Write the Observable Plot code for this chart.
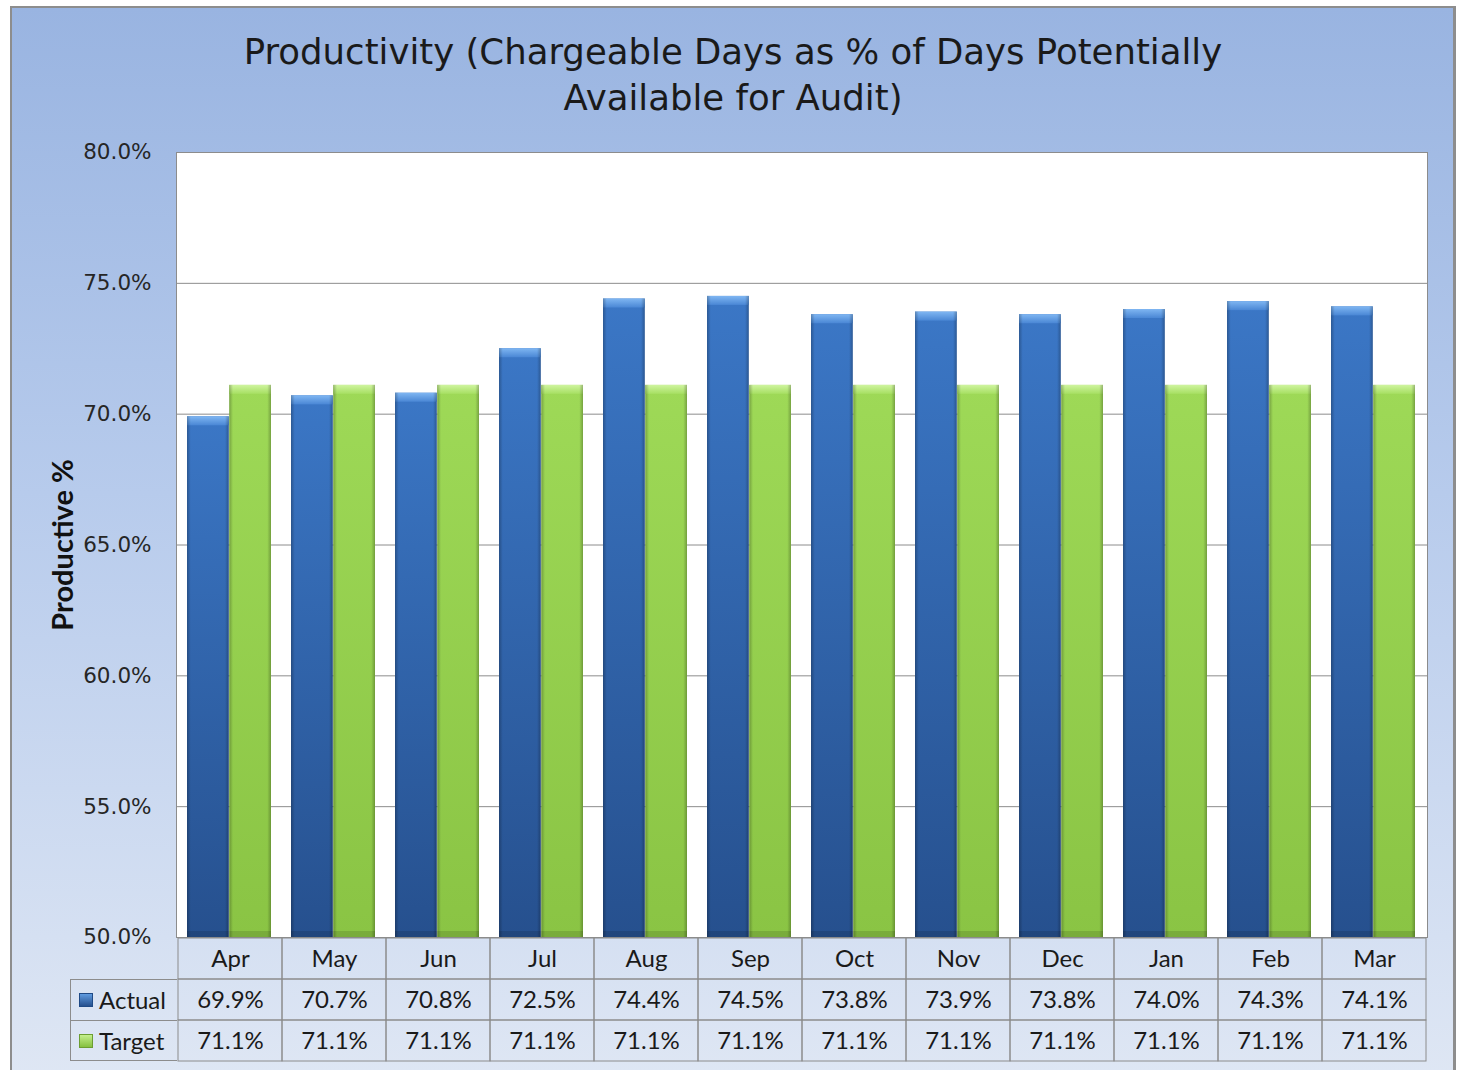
<!DOCTYPE html>
<html>
<head>
<meta charset="utf-8">
<script src="https://cdn.jsdelivr.net/npm/d3@7"></script>
<script src="https://cdn.jsdelivr.net/npm/@observablehq/plot@0.6"></script>
<style>
  html, body { margin: 0; padding: 0; width: 1460px; height: 1070px; overflow: hidden; background: white; }
  .abs { position: absolute; }
  #frame { left: 10px; top: 6px; width: 1446px; height: 1080px; box-sizing: border-box;
           border: 2px solid #8d8d8d; border-right-width: 3px;
           background: linear-gradient(to bottom, #99b4e1 0%, #b7cbec 45%, #dfe7f4 100%); }
  #title { left: 10px; width: 1446px; top: 29px; text-align: center; font-family: "DejaVu Sans", sans-serif;
           font-size: 35.5px; line-height: 46px; color: #1a1a1a; }
  #legend { left: 70px; top: 979px; width: 107px; height: 82px; box-sizing: border-box; border: 1px solid #8c8c8c; border-right: none;
            font-family: Lato, sans-serif; font-size: 24px; color: #1a1a1a; }
  .lrow { height: 40px; line-height: 40px; display: flex; align-items: center; padding-left: 8px; box-sizing: border-box; }
  .lrow + .lrow { border-top: 1px solid #8c8c8c; }
  .sw { width: 14px; height: 14px; margin-right: 6px; box-sizing: border-box; }
</style>
</head>
<body>
<div id="frame" class="abs"></div>
<div id="title" class="abs"></div>
<div id="main" class="abs" style="left:0;top:130px"></div>
<div id="table" class="abs" style="left:0;top:937px"></div>
<div id="legend" class="abs"></div>
<script>
// ---- data ----
const titleLines = ["Productivity (Chargeable Days as % of Days Potentially", "Available for Audit)"];
const yLabel = "Productive %";
const months = ["Apr", "May", "Jun", "Jul", "Aug", "Sep", "Oct", "Nov", "Dec", "Jan", "Feb", "Mar"];
const actual = [69.9, 70.7, 70.8, 72.5, 74.4, 74.5, 73.8, 73.9, 73.8, 74.0, 74.3, 74.1];
const target = [71.1, 71.1, 71.1, 71.1, 71.1, 71.1, 71.1, 71.1, 71.1, 71.1, 71.1, 71.1];
const seriesNames = ["Actual", "Target"];
const yTicks = [50, 55, 60, 65, 70, 75, 80];

// ---- derived tables ----
const actualData = months.map((m, i) => ({month: m, value: actual[i]}));
const targetData = months.map((m, i) => ({month: m, value: target[i]}));
const fmt = v => v.toFixed(1) + "%";

document.getElementById("title").innerHTML = titleLines.join("<br>");

const W = 1460, ML = 176, MR = 33;
const step = (W - ML - MR) / months.length;
const bandwidth = step * 0.81;
const half = bandwidth / 2;
const base = yTicks[0];

const barMarks = (data, gradBody, gradBevel, side) => {
  const inset = side === "left" ? {insetRight: half} : {insetLeft: half};
  return [
    Plot.barY(data, {x: "month", y1: base, y2: "value", fill: `url(#${gradBody})`, ...inset}),
    Plot.barY(data, {x: "month", y1: "value", y2: "value", insetBottom: -9, fill: `url(#${gradBevel})`, ...inset}),
    Plot.barY(data, {x: "month", y1: base, y2: base, insetTop: -6, fill: "rgba(0,0,0,0.12)", ...inset}),
    Plot.barY(data, {x: "month", y1: base, y2: "value", fill: "url(#gEdge)", ...inset})
  ];
};

const main = Plot.plot({
  width: W, height: 827,
  marginLeft: ML, marginRight: MR, marginTop: 22, marginBottom: 20,
  style: {background: "transparent", overflow: "visible", fontFamily: "DejaVu Sans", fontSize: "21.5px", color: "#262626"},
  x: {domain: months, paddingInner: 0.19, paddingOuter: 0.095, axis: null},
  y: {domain: [yTicks[0], yTicks[yTicks.length - 1]], ticks: yTicks, tickFormat: fmt, label: null, tickSize: 0, tickPadding: 25},
  marks: [
    Plot.frame({fill: "white", stroke: "#8c8c8c"}),
    Plot.ruleY(yTicks, {stroke: "#8c8c8c", strokeWidth: 1}),
    ...barMarks(actualData, "gBlue", "gBlueBevel", "left"),
    ...barMarks(targetData, "gGreen", "gGreenBevel", "right"),
    Plot.text([yLabel], {frameAnchor: "left", textAnchor: "middle", rotate: -90, dx: -113,
      fontWeight: "bold", fontSize: 29, fontFamily: "Lato", fill: "#111"})
  ]
});

const defs = `
<defs>
  <linearGradient id="gBlue" x1="0" y1="0" x2="0" y2="1">
    <stop offset="0" stop-color="#3b77c6"/><stop offset="1" stop-color="#26508e"/>
  </linearGradient>
  <linearGradient id="gBlueBevel" x1="0" y1="0" x2="0" y2="1">
    <stop offset="0" stop-color="#7fb6f2"/><stop offset="1" stop-color="#4a87d5"/>
  </linearGradient>
  <linearGradient id="gGreen" x1="0" y1="0" x2="0" y2="1">
    <stop offset="0" stop-color="#9ed957"/><stop offset="1" stop-color="#8ac444"/>
  </linearGradient>
  <linearGradient id="gGreenBevel" x1="0" y1="0" x2="0" y2="1">
    <stop offset="0" stop-color="#cff49f"/><stop offset="1" stop-color="#a6df62"/>
  </linearGradient>
  <linearGradient id="gEdge" x1="0" y1="0" x2="1" y2="0">
    <stop offset="0" stop-color="#000" stop-opacity="0.25"/>
    <stop offset="0.09" stop-color="#000" stop-opacity="0"/>
    <stop offset="0.91" stop-color="#000" stop-opacity="0"/>
    <stop offset="1" stop-color="#000" stop-opacity="0.25"/>
  </linearGradient>
</defs>`;
main.insertAdjacentHTML("afterbegin", defs);
document.getElementById("main").appendChild(main);

// ---- data table ----
const rowKeys = ["hdr", ...seriesNames];
const tableRows = [];
months.forEach((m, i) => {
  tableRows.push({month: m, row: "hdr", label: m});
  tableRows.push({month: m, row: seriesNames[0], label: fmt(actual[i])});
  tableRows.push({month: m, row: seriesNames[1], label: fmt(target[i])});
});
const table = Plot.plot({
  width: W, height: 124,
  marginLeft: ML, marginRight: MR, marginTop: 0, marginBottom: 0,
  style: {background: "transparent", overflow: "visible"},
  x: {domain: months, padding: 0, axis: null},
  y: {domain: rowKeys, padding: 0, axis: null},
  marks: [
    Plot.cell(tableRows, {x: "month", y: "row", fill: "none", stroke: "#8c8c8c"}),
    Plot.text(tableRows, {x: "month", y: "row", text: "label", fontFamily: "Lato", fontSize: 24, fill: "#1a1a1a"})
  ]
});
document.getElementById("table").appendChild(table);

// legend column of the data table
const swatches = [
  "linear-gradient(to bottom, #5f9be0, #26508e)",
  "linear-gradient(to bottom, #c4ef8d, #86c040)"
];
document.getElementById("legend").innerHTML = seriesNames.map((s, i) =>
  `<div class="lrow"><div class="sw" style="background:${swatches[i]};border:1px solid ${i ? '#6c9e32' : '#1f4a86'}"></div>${s}</div>`
).join("");
</script>
</body>
</html>
